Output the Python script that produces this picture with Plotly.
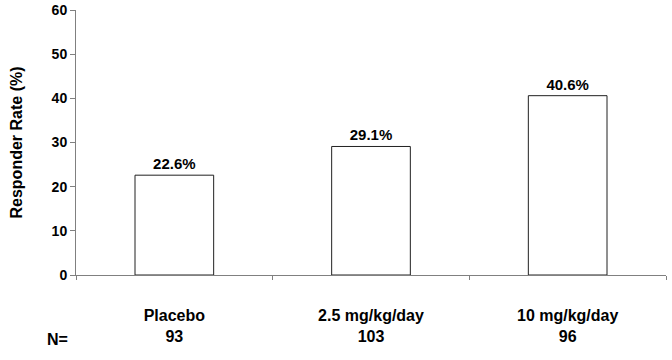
import plotly.graph_objects as go

categories = ["Placebo", "2.5 mg/kg/day", "10 mg/kg/day"]
n_values = ["93", "103", "96"]
rates = [22.6, 29.1, 40.6]
y_ticks = [0, 10, 20, 30, 40, 50, 60]

FONT = "Liberation Sans, Arial, sans-serif"

fig = go.Figure()
fig.add_trace(go.Bar(
    x=categories,
    y=rates,
    width=0.4,
    marker=dict(color="white", line=dict(color="#202020", width=1)),
    text=[f"<b>{v:.1f}%</b>" for v in rates],
    textposition="outside",
    textfont=dict(family=FONT, size=15, color="black"),
    cliponaxis=False,
    showlegend=False,
    hoverinfo="skip",
))

ticktext = [f"<b>{c}</b><br><b>{n}</b>" for c, n in zip(categories, n_values)]

fig.update_layout(
    width=672, height=360,
    margin=dict(l=76, r=6, t=10, b=85, autoexpand=False),
    paper_bgcolor="white", plot_bgcolor="white",
    font=dict(family=FONT, color="black"),
    bargap=0.6,
    xaxis=dict(
        type="category", automargin=False,
        tickmode="array", tickvals=categories, ticktext=ticktext,
        tickson="boundaries", ticks="outside", ticklen=4, tickcolor="#808080",
        showline=True, linecolor="#808080", linewidth=1,
        showgrid=False, zeroline=False,
        tickfont=dict(family=FONT, size=16, color="black"),
        ticklabelstandoff=26,
        range=[-0.5, 2.5],
    ),
    yaxis=dict(
        range=[0, 60], automargin=False,
        tickmode="array", tickvals=y_ticks,
        ticktext=[f"<b>{t}</b>" for t in y_ticks],
        ticks="outside", ticklen=5, tickcolor="#808080",
        showline=True, linecolor="#808080", linewidth=1,
        showgrid=False, zeroline=False,
        ticklabeloverflow="allow",
        tickfont=dict(family=FONT, size=14, color="black"),
        title=dict(text="<b>Responder Rate (%)</b>",
                   font=dict(family=FONT, size=16, color="black"),
                   standoff=25),
    ),
    annotations=[dict(
        text="<b>N=</b>", xref="paper", yref="paper",
        x=-0.032, y=-0.245, xanchor="center", yanchor="middle",
        showarrow=False, font=dict(family=FONT, size=16, color="black"),
    )],
)

fig.write_html("out.html", config={"displayModeBar": False},
               post_script="document.body.style.margin='0';")
